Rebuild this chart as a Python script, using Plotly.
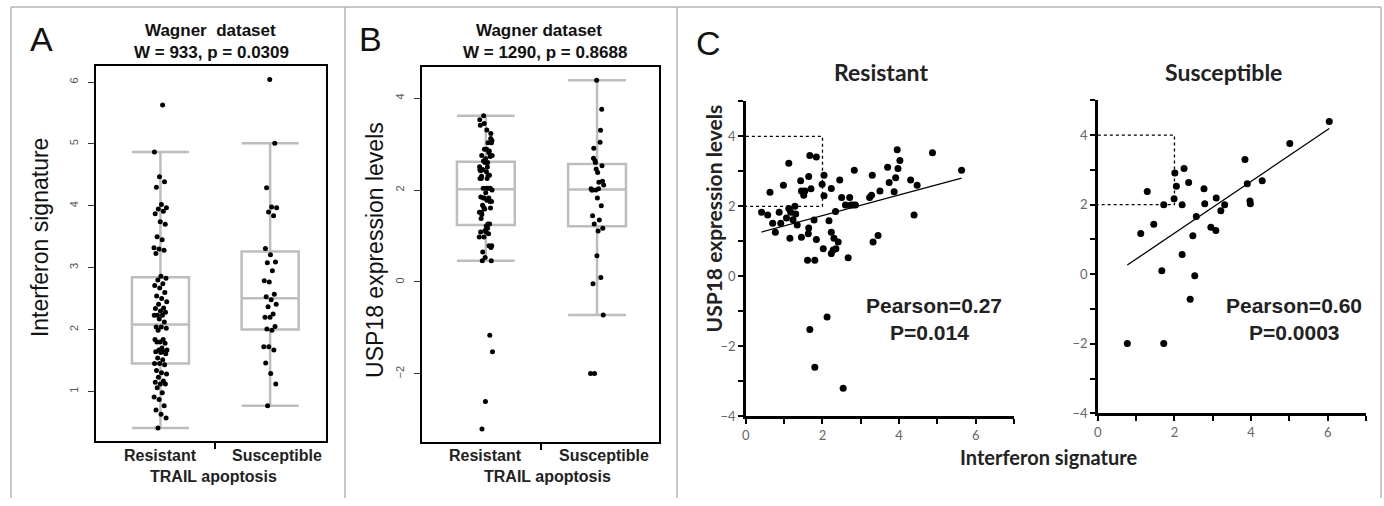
import numpy as np
import plotly.graph_objects as go

# ---------------------------------------------------------------------------
# Data: Wagner dataset, samples split by TRAIL apoptosis response.
# Each sample has an interferon signature score and a USP18 expression level.
# ---------------------------------------------------------------------------
res_ifn = [0.41, 0.57, 0.63, 0.70, 0.77, 0.87, 0.91, 0.98, 1.06, 1.12,
           1.12, 1.15, 1.17, 1.23, 1.28, 1.30, 1.34, 1.43, 1.45, 1.45,
           1.51, 1.54, 1.61, 1.63, 1.64, 1.64, 1.67, 1.67, 1.70, 1.80,
           1.78, 1.80, 1.84, 1.84, 1.99, 2.02, 2.04, 2.04, 2.12, 2.17,
           2.23, 2.23, 2.23, 2.28, 2.30, 2.34, 2.35, 2.41, 2.45, 2.50,
           2.54, 2.60, 2.67, 2.71, 2.74, 2.80, 2.83, 2.86, 3.23, 3.28,
           3.30, 3.32, 3.45, 3.50, 3.70, 3.74, 3.87, 3.91, 3.95, 3.97,
           4.02, 4.30, 4.39, 4.47, 4.87, 5.63]
res_usp = [1.83, 1.75, 2.40, 1.52, 1.26, 1.83, 1.52, 2.60, 1.67, 3.23,
           1.94, 1.09, 1.83, 1.62, 2.00, 1.78, 1.47, 2.73, 1.12, 2.44,
           2.32, 2.44, 0.46, 1.22, 1.38, 2.85, 3.45, -1.52, 2.50, 0.46,
           1.61, -2.60, 3.41, 1.05, 2.63, 0.79, 2.89, 2.30, -1.16, 1.59,
           2.51, 1.26, 0.65, 0.75, 1.09, 1.85, 0.79, 0.98, 2.75, 2.25,
           -3.20, 2.04, 0.53, 2.25, 2.04, 2.04, 3.03, 2.04, 2.25, 2.32,
           2.89, 0.98, 1.17, 2.44, 3.12, 2.68, 2.42, 2.82, 3.62, 3.08,
           3.31, 2.75, 1.75, 2.60, 3.53, 3.03]

sus_ifn = [0.77, 1.12, 1.29, 1.46, 1.67, 1.72, 1.72, 1.99, 2.01, 2.05,
           2.20, 2.20, 2.25, 2.37, 2.41, 2.48, 2.53, 2.57, 2.77, 2.79,
           2.95, 3.08, 3.09, 3.21, 3.31, 3.84, 3.90, 3.97, 3.98, 4.29,
           5.01, 6.04]
sus_usp = [-1.99, 1.17, 2.38, 1.44, 0.10, 2.00, -1.99, 2.17, 2.91, 2.53,
           0.57, 2.00, 3.04, 2.64, -0.72, 1.11, -0.04, 1.66, 2.46, 2.03,
           1.35, 1.26, 2.19, 1.83, 2.00, 3.30, 2.60, 2.11, 2.03, 2.69,
           3.76, 4.39]

groups = ["Resistant", "Susceptible"]
group_pos = [1, 2]

stats_a = "W = 933, p = 0.0309"
stats_b = "W = 1290, p = 0.8688"
pearson_res = ("Pearson=0.27", "P=0.014")
pearson_sus = ("Pearson=0.60", "P=0.0003")

# dotted reference window (interferon below 2, USP18 between 2 and 4)
win_ifn_max = 2
win_usp = (2, 4)

# ---------------------------------------------------------------------------
W, H = 1384, 506
ARIAL = "Liberation Sans"
CAL = "Lato"
GREY = "#bdbdbd"


def px(x):
    return x / W


def py(y):
    return 1 - y / H


def spread(n, amount):
    # evenly scattered horizontal offsets for the strip points
    k = np.arange(n)
    return amount * (2 * ((k * 0.6180339887 + 0.31) % 1.0) - 1)


def tukey_box(vals):
    # hinges (Tukey five-number summary) and 1.5*IQR whisker ends
    v = np.sort(np.asarray(vals, dtype=float))
    n = len(v)
    med = np.median(v)
    q1 = np.median(v[:(n + 1) // 2])
    q3 = np.median(v[n // 2:])
    iqr = q3 - q1
    lo = v[v >= q1 - 1.5 * iqr].min()
    hi = v[v <= q3 + 1.5 * iqr].max()
    return q1, med, q3, lo, hi


fig = go.Figure()

# ---- panels A and B: boxplots with strip points --------------------------
for xa, ya, series in [("x", "y", [res_ifn, sus_ifn]),
                       ("x2", "y2", [res_usp, sus_usp])]:
    for pos, vals in zip(group_pos, series):
        q1, med, q3, lo, hi = tukey_box(vals)
        fig.add_trace(go.Box(
            x=[pos], q1=[q1], median=[med], q3=[q3],
            lowerfence=[lo], upperfence=[hi],
            width=0.52, whiskerwidth=1, boxpoints=False,
            line=dict(color=GREY, width=2.5),
            fillcolor="rgba(0,0,0,0)",
            xaxis=xa, yaxis=ya, showlegend=False, hoverinfo="skip"))
        fig.add_trace(go.Scatter(
            x=pos + spread(len(vals), 0.06), y=vals, mode="markers",
            marker=dict(color="black", size=5),
            xaxis=xa, yaxis=ya, showlegend=False, hoverinfo="skip"))

# ---- panel C: scatter with least-squares line ------------------------------
for xa, ya, xs, ys in [("x3", "y3", res_ifn, res_usp),
                       ("x4", "y4", sus_ifn, sus_usp)]:
    fig.add_trace(go.Scatter(
        x=[0, win_ifn_max, win_ifn_max, 0],
        y=[win_usp[1], win_usp[1], win_usp[0], win_usp[0]],
        mode="lines", line=dict(color="black", width=1.3, dash="dot"),
        xaxis=xa, yaxis=ya, showlegend=False, hoverinfo="skip"))
    fig.add_trace(go.Scatter(
        x=xs, y=ys, mode="markers", marker=dict(color="black", size=7),
        xaxis=xa, yaxis=ya, showlegend=False, hoverinfo="skip"))
    slope, icpt = np.polyfit(xs, ys, 1)
    lx = np.array([min(xs), max(xs)])
    fig.add_trace(go.Scatter(
        x=lx, y=slope * lx + icpt, mode="lines",
        line=dict(color="black", width=1.3),
        xaxis=xa, yaxis=ya, showlegend=False, hoverinfo="skip"))

# ---- axes ------------------------------------------------------------------
box_x = dict(type="linear", showline=True, mirror=True, linecolor="black",
             linewidth=2, showgrid=False, zeroline=False,
             tickvals=group_pos, showticklabels=False, ticks="",
             minor=dict(tickvals=[1.5], ticks="outside", ticklen=6,
                        tickwidth=2, tickcolor="black"))
box_y = dict(showline=True, mirror=True, linecolor="black", linewidth=2,
             showgrid=False, zeroline=False, ticks="outside", ticklen=6,
             tickwidth=1, tickcolor="#333", tickangle=-90,
             ticklabelstandoff=5,
             tickfont=dict(family=ARIAL, size=11, color="#555"))

sc_x = dict(range=[0, 7], showline=True, linecolor="black", linewidth=2.5,
            showgrid=False, zeroline=False, tick0=0, dtick=2,
            ticks="outside", ticklen=5, tickwidth=2, tickcolor="black",
            minor=dict(dtick=1, ticks="outside", ticklen=5, tickwidth=2,
                       tickcolor="black"),
            tickfont=dict(family=CAL, size=13, color="#666"))
sc_y = dict(range=[-4, 5], showline=True, linecolor="black", linewidth=2.5,
            showgrid=False, zeroline=False, tick0=-4, dtick=2,
            ticks="outside", ticklen=5, tickwidth=2, tickcolor="black",
            minor=dict(dtick=1, ticks="outside", ticklen=5, tickwidth=2,
                       tickcolor="black"),
            tickfont=dict(family=CAL, size=13, color="#666"))

fig.update_layout(
    width=W, height=H, margin=dict(l=0, r=0, t=0, b=0),
    paper_bgcolor="white", plot_bgcolor="white", showlegend=False,
    xaxis=dict(box_x, domain=[px(92), px(323)], range=[0.41, 2.51],
               anchor="y"),
    yaxis=dict(box_y, domain=[py(448), py(67)], range=[0.2, 6.26],
               tickvals=[1, 2, 3, 4, 5, 6], anchor="x"),
    xaxis2=dict(box_x, domain=[px(419), px(657)], range=[0.424, 2.558],
                anchor="y2"),
    yaxis2=dict(box_y, domain=[py(449), py(68)], range=[-3.48, 4.68],
                tickvals=[-2, 0, 2, 4], anchor="x2"),
    xaxis3=dict(sc_x, domain=[px(744), px(1013)], anchor="y3"),
    yaxis3=dict(sc_y, domain=[py(423), py(103)], anchor="x3"),
    xaxis4=dict(sc_x, domain=[px(1097), px(1366)], anchor="y4"),
    yaxis4=dict(sc_y, domain=[py(420), py(102)], anchor="x4"),
)

# ---- text ------------------------------------------------------------------
ann = []


def note(text, x, y, size, family=ARIAL, color="#111", angle=0, xref=None):
    ann.append(dict(text=text, x=px(x) if xref is None else x, y=py(y),
                    xref="paper" if xref is None else xref, yref="paper",
                    showarrow=False, xanchor="center", yanchor="middle",
                    textangle=angle,
                    font=dict(family=family, size=size, color=color)))


note("A", 38, 40, 34)
note("B", 368, 40, 34)
note("C", 707, 44, 34)

note("<b>Wagner\u00a0 dataset</b>", 207, 31, 17)
note(f"<b>{stats_a}</b>", 208, 53, 17)
note("<b>Wagner dataset</b>", 537, 31, 17)
note(f"<b>{stats_b}</b>", 543, 53, 17)

note("Interferon signature", 36, 241, 23, angle=-90)
note("USP18 expression levels", 372, 254, 23, angle=-90)

# group labels under each box, then the shared axis caption
for xr, nudge in (("x", 0.06), ("x2", 0.06)):
    for pos, g in zip(group_pos, groups):
        note(f"<b>{g}</b>", pos + (nudge if pos == 2 else 0), 463, 16,
             color="#222", xref=xr)
note("<b>TRAIL apoptosis</b>", 210, 484, 16, color="#222")
note("<b>TRAIL apoptosis</b>", 545, 484, 16, color="#222")

note("<b>Resistant</b>", 880, 73, 23, family=CAL, color="#222")
note("<b>Susceptible</b>", 1223, 73, 23, family=CAL, color="#222")
note("<b>USP18 expression levels</b>", 712, 222, 21, family=CAL,
     color="#222", angle=-90)
note("<b>Interferon signature</b>", 1048, 464, 20, family=CAL, color="#222")

note(f"<b>{pearson_res[0]}</b>", 933, 310, 21, color="#222")
note(f"<b>{pearson_res[1]}</b>", 928, 338, 21, color="#222")
note(f"<b>{pearson_sus[0]}</b>", 1294, 310, 21, color="#222")
note(f"<b>{pearson_sus[1]}</b>", 1294, 338, 21, color="#222")

fig.update_layout(annotations=ann)

# ---- light panel frame -----------------------------------------------------
frame = dict(type="line", xref="paper", yref="paper",
             line=dict(color="#b5b5b5", width=1.5))
shapes = [dict(frame, x0=px(7), x1=px(1381), y0=py(7), y1=py(7))]
for xv in (7, 342, 675, 1381):
    shapes.append(dict(frame, x0=px(xv), x1=px(xv), y0=py(7), y1=0))
fig.update_layout(shapes=shapes)

fig.write_html("out.html")
